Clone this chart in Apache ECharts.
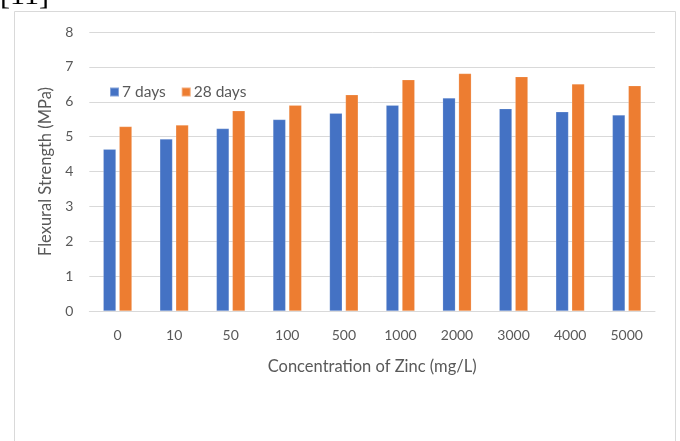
<!DOCTYPE html>
<html>
<head>
<meta charset="utf-8">
<script src="https://cdn.jsdelivr.net/npm/echarts@6/dist/echarts.min.js"></script>
<style>
html,body{margin:0;padding:0;background:#fff;}
#chart{width:680px;height:441px;}
</style>
</head>
<body>
<div id="chart"></div>
<script>
const categories = ['0','10','50','100','500','1000','2000','3000','4000','5000'];
const days7 = [4.64, 4.93, 5.23, 5.49, 5.67, 5.90, 6.11, 5.80, 5.71, 5.62];
const days28 = [5.29, 5.33, 5.74, 5.90, 6.20, 6.63, 6.81, 6.72, 6.51, 6.46];
const seriesNames = ['7 days', '28 days'];
const yTicks = {min: 0, max: 8, interval: 1};

const font = 'Lato, "Open Sans", sans-serif';
const textColor = '#595959';
const chart = echarts.init(document.getElementById('chart'), null, {renderer: 'canvas'});
chart.setOption({
  animation: false,
  backgroundColor: '#fff',
  graphic: [
    {type: 'rect', shape: {x: 14.5, y: 11.5, width: 661, height: 450}, style: {fill: 'none', stroke: '#d9d9d9', lineWidth: 1}},
    {type: 'text', left: 0, top: -19, style: {text: '[11]', font: '30px "Liberation Serif", serif', fill: '#000'}}
  ],
  legend: {
    data: seriesNames,
    left: 104, top: 79,
    itemWidth: 9, itemHeight: 9, itemGap: 15,
    icon: 'rect',
    textStyle: {color: textColor, fontSize: 15.5, fontFamily: font, padding: [0,0,0,-2]}
  },
  grid: {left: 89.3, right: 25, top: 32, bottom: 130, containLabel: false},
  xAxis: {
    type: 'category',
    data: categories,
    name: 'Concentration of Zinc (mg/L)',
    nameLocation: 'middle',
    nameGap: 47,
    nameTextStyle: {color: textColor, fontSize: 16.5, fontFamily: font},
    axisLine: {lineStyle: {color: '#d9d9d9', width: 1}},
    axisTick: {show: false},
    axisLabel: {color: textColor, fontSize: 14, fontFamily: font, margin: 17}
  },
  yAxis: {
    type: 'value',
    min: yTicks.min, max: yTicks.max, interval: yTicks.interval,
    name: 'Flexural Strength (MPa)',
    nameLocation: 'middle',
    nameGap: 33,
    nameTextStyle: {color: textColor, fontSize: 16.5, fontFamily: font},
    axisLine: {show: false},
    axisTick: {show: false},
    axisLabel: {color: textColor, fontSize: 14, fontFamily: font, margin: 16},
    splitLine: {lineStyle: {color: '#d9d9d9', width: 1}}
  },
  series: [
    {name: seriesNames[0], type: 'bar', data: days7, barWidth: '22.4%', barGap: '26%',
     itemStyle: {color: '#4472c4', borderColor: 'rgba(255,255,255,0.35)', borderWidth: 0.5}},
    {name: seriesNames[1], type: 'bar', data: days28, barWidth: '22.4%', barGap: '26%',
     itemStyle: {color: '#ed7d31', borderColor: 'rgba(255,255,255,0.35)', borderWidth: 0.5}}
  ]
});
</script>
</body>
</html>
